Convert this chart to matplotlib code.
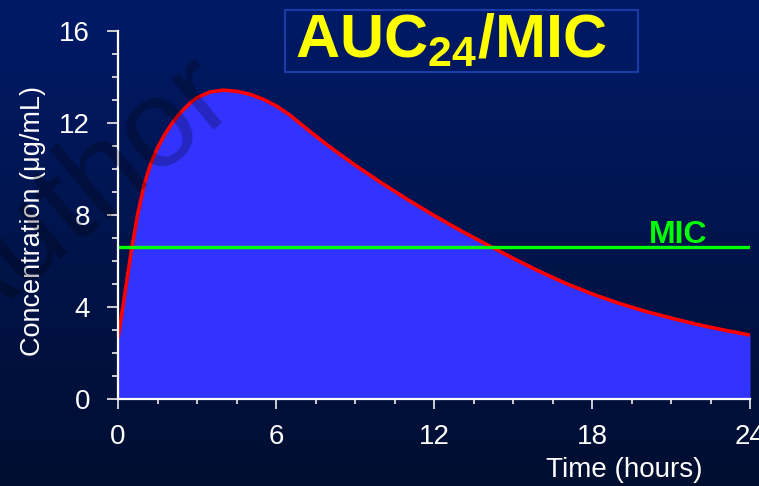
import numpy as np
import matplotlib.pyplot as plt
from matplotlib.patches import Rectangle
from matplotlib.ticker import MultipleLocator

plt.rcParams['font.family'] = ['Liberation Sans', 'DejaVu Sans']
plt.rcParams['mathtext.fontset'] = 'custom'
plt.rcParams['mathtext.rm'] = 'Liberation Sans'
plt.rcParams['mathtext.bf'] = 'Liberation Sans:bold'

# concentración (horas, ug/mL)
tiempo = [0, 0.25, 0.5, 0.75, 1.0, 1.25, 1.5, 1.75, 2.0, 2.25, 2.5, 2.75, 3.0,
          3.5, 4.0, 4.5, 5.0, 5.5, 6.0, 6.5, 7.0, 7.5, 8.0, 8.5, 9, 10, 11, 12,
          13, 14, 15, 16, 17, 18, 19, 20, 21, 22, 23, 24]
conc = [2.65, 4.5, 6.4, 8.05, 9.35, 10.25, 10.92, 11.45, 11.9, 12.28, 12.6,
        12.88, 13.1, 13.35, 13.43, 13.38, 13.25, 13.04, 12.75, 12.37, 11.9,
        11.44, 11.0, 10.58, 10.17, 9.4, 8.67, 7.98, 7.33, 6.72, 6.12, 5.55,
        5.03, 4.57, 4.17, 3.82, 3.52, 3.24, 3.0, 2.78]
mic = 6.62

x_ticks = [0, 6, 12, 18, 24]
y_ticks = [0, 4, 8, 12, 16]

fig = plt.figure(figsize=(7.59, 4.86), dpi=100)

# fondo degradado
bg = fig.add_axes([0, 0, 1, 1], zorder=-1)
grad = np.linspace(0, 1, 256).reshape(-1, 1)
top = np.array([0x00, 0x1A, 0x68]) / 255
bot = np.array([0x00, 0x0E, 0x30]) / 255
img = top + (bot - top) * grad[:, :, None]
bg.imshow(img, aspect='auto', extent=[0, 1, 0, 1])
bg.set_axis_off()

ax = fig.add_axes([118 / 759, 87 / 486, 632 / 759, 368 / 486])
ax.patch.set_alpha(0)

ax.fill_between(tiempo, conc, 0, color='#3333FF', lw=0, zorder=2)
ax.plot(tiempo, conc, color='#FF0000', lw=2.6, zorder=3, solid_capstyle='butt')
ax.hlines(mic, 0, 24, color='#00FF00', lw=2.4, zorder=4)
ax.text(21.27, 6.8, 'MIC', color='#00FF00', fontsize=23, fontweight='bold',
        ha='center', va='baseline', zorder=5)

ax.set_xlim(0, 24)
ax.set_ylim(0, 16)
ax.set_xticks(x_ticks)
ax.set_yticks(y_ticks)
ax.xaxis.set_minor_locator(MultipleLocator(1.5))
ax.yaxis.set_minor_locator(MultipleLocator(1))
for s in ['top', 'right']:
    ax.spines[s].set_visible(False)
for s in ['left', 'bottom']:
    ax.spines[s].set_color('white')
    ax.spines[s].set_linewidth(1.6)
    ax.spines[s].set_zorder(6)
ax.tick_params(axis='y', which='major', length=8, width=1.3, colors='#dddddd',
               labelcolor='white', labelsize=20, pad=12)
ax.tick_params(axis='y', which='minor', length=4.5, width=1.3, colors='#dddddd')
ax.tick_params(axis='x', which='major', length=7, width=1.3, colors='#dddddd',
               labelcolor='white', labelsize=20, pad=11)
ax.tick_params(axis='x', which='minor', length=3.5, width=1.3, colors='#dddddd')

fig.text(624 / 759, 9 / 486, 'Time (hours)', color='white', fontsize=20,
         ha='center', va='baseline')
fig.text(33 / 759, 1 - 221 / 486, 'Concentration (\u03bcg/mL)', color='white',
         fontsize=19.5, rotation=90, ha='center', va='center')

# título en recuadro
fig.patches.append(Rectangle((285 / 759, 1 - 72 / 486), 353 / 759, 62 / 486,
                             transform=fig.transFigure, fill=False,
                             edgecolor='#1a3ca8', lw=1.5))
fig.text(295 / 759, 1 - 57 / 486, r'$\mathbf{AUC_{24}/MIC}$', color='#FFFF00',
         fontsize=44, ha='left', va='baseline')

# marca de agua
fig.text(240 / 759, 1 - 108 / 486, 'Author', color='black', alpha=0.25,
         fontsize=90, rotation=40, rotation_mode='anchor', ha='right',
         va='baseline', zorder=10)

fig.savefig('out.png', dpi=100)
